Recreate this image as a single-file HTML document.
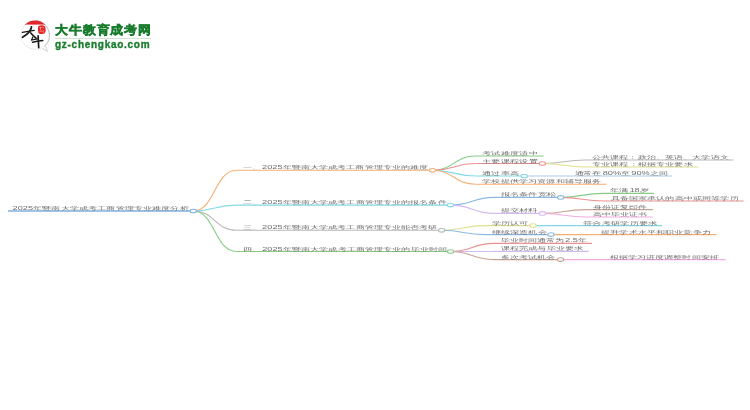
<!DOCTYPE html>
<html><head><meta charset="utf-8"><style>
html,body{margin:0;padding:0;background:#fff;width:750px;height:410px;overflow:hidden}
#wrap{position:absolute;left:0;top:0;width:750px;height:410px;will-change:transform}
svg{position:absolute;left:0;top:0}
.mm text{font-family:"Liberation Sans",sans-serif;font-size:4.6px;fill:#6e6e6e}
</style></head><body>
<div id="wrap">
<svg class="mm" width="750" height="410" viewBox="0 0 750 410">
<path d="M8.0 211.0H190.1" stroke="#80b0de" stroke-width="1.7" fill="none"/>
<path d="M193.3 211.0C214.8 211.0 214.8 170.3 236.2 170.3" stroke="#f7ae72" stroke-width="1.1" fill="none"/>
<path d="M236.2 170.3H429.2" stroke="#f7ae72" stroke-width="1.1" fill="none"/>
<path d="M193.3 211.0C214.8 211.0 214.8 205.1 236.2 205.1" stroke="#80d8e7" stroke-width="1.1" fill="none"/>
<path d="M236.2 205.1H447.3" stroke="#80d8e7" stroke-width="1.1" fill="none"/>
<path d="M193.3 211.0C214.8 211.0 214.8 230.3 236.2 230.3" stroke="#b8b8b8" stroke-width="1.1" fill="none"/>
<path d="M236.2 230.3H438.4" stroke="#b8b8b8" stroke-width="1.1" fill="none"/>
<path d="M193.3 211.0C214.8 211.0 214.8 251.5 236.2 251.5" stroke="#86cc86" stroke-width="1.1" fill="none"/>
<path d="M236.2 251.5H447.3" stroke="#86cc86" stroke-width="1.1" fill="none"/>
<path d="M432.4 170.3C454.0 170.3 454.0 156.0 475.7 156.0" stroke="#86cc86" stroke-width="1.1" fill="none"/>
<path d="M475.7 156.0H543.7" stroke="#86cc86" stroke-width="1.1" fill="none"/>
<path d="M432.4 170.3C454.0 170.3 454.0 163.5 475.7 163.5" stroke="#ec9090" stroke-width="1.1" fill="none"/>
<path d="M475.7 163.5H539.1" stroke="#ec9090" stroke-width="1.1" fill="none"/>
<path d="M432.4 170.3C454.0 170.3 454.0 176.0 475.7 176.0" stroke="#80d8e7" stroke-width="1.1" fill="none"/>
<path d="M475.7 176.0H521.0" stroke="#80d8e7" stroke-width="1.1" fill="none"/>
<path d="M432.4 170.3C454.0 170.3 454.0 184.3 475.7 184.3" stroke="#f7ae72" stroke-width="1.1" fill="none"/>
<path d="M475.7 184.3H606.6" stroke="#f7ae72" stroke-width="1.1" fill="none"/>
<path d="M542.3 163.5C563.8 163.5 563.8 160.0 585.4 160.0" stroke="#b8b8b8" stroke-width="1.1" fill="none"/>
<path d="M585.4 160.0H733.6" stroke="#b8b8b8" stroke-width="1.1" fill="none"/>
<path d="M542.3 163.5C563.8 163.5 563.8 167.0 585.4 167.0" stroke="#e0e08c" stroke-width="1.1" fill="none"/>
<path d="M585.4 167.0H698.4" stroke="#e0e08c" stroke-width="1.1" fill="none"/>
<path d="M524.2 176.0H568.0" stroke="#a9cbea" stroke-width="1.1" fill="none"/>
<path d="M568.0 176.0H672.4" stroke="#a9cbea" stroke-width="1.1" fill="none"/>
<path d="M450.5 205.1C472.2 205.1 472.2 197.4 494.0 197.4" stroke="#8cbae3" stroke-width="1.1" fill="none"/>
<path d="M494.0 197.4H557.4" stroke="#8cbae3" stroke-width="1.1" fill="none"/>
<path d="M450.5 205.1C472.2 205.1 472.2 213.4 494.0 213.4" stroke="#d6baef" stroke-width="1.1" fill="none"/>
<path d="M494.0 213.4H539.2" stroke="#d6baef" stroke-width="1.1" fill="none"/>
<path d="M560.6 197.4C582.0 197.4 582.0 193.4 603.5 193.4" stroke="#86cc86" stroke-width="1.1" fill="none"/>
<path d="M603.5 193.4H654.0" stroke="#86cc86" stroke-width="1.1" fill="none"/>
<path d="M560.6 197.4C582.3 197.4 582.3 201.0 604.0 201.0" stroke="#ec9090" stroke-width="1.1" fill="none"/>
<path d="M604.0 201.0H743.6" stroke="#ec9090" stroke-width="1.1" fill="none"/>
<path d="M542.4 213.4C564.2 213.4 564.2 209.6 586.0 209.6" stroke="#c8a496" stroke-width="1.1" fill="none"/>
<path d="M586.0 209.6H653.0" stroke="#c8a496" stroke-width="1.1" fill="none"/>
<path d="M542.4 213.4C564.2 213.4 564.2 217.0 586.0 217.0" stroke="#f3acdf" stroke-width="1.1" fill="none"/>
<path d="M586.0 217.0H653.0" stroke="#f3acdf" stroke-width="1.1" fill="none"/>
<path d="M441.6 230.3C463.3 230.3 463.3 225.6 485.0 225.6" stroke="#e0e08c" stroke-width="1.1" fill="none"/>
<path d="M485.0 225.6H529.8" stroke="#e0e08c" stroke-width="1.1" fill="none"/>
<path d="M441.6 230.3C463.3 230.3 463.3 234.6 485.0 234.6" stroke="#8cbae3" stroke-width="1.1" fill="none"/>
<path d="M485.0 234.6H547.8" stroke="#8cbae3" stroke-width="1.1" fill="none"/>
<path d="M533.0 225.6H576.6" stroke="#80d8e7" stroke-width="1.1" fill="none"/>
<path d="M576.6 225.6H662.0" stroke="#80d8e7" stroke-width="1.1" fill="none"/>
<path d="M551.0 234.6H594.6" stroke="#f7ae72" stroke-width="1.1" fill="none"/>
<path d="M594.6 234.6H716.4" stroke="#f7ae72" stroke-width="1.1" fill="none"/>
<path d="M450.5 251.5C472.2 251.5 472.2 243.4 494.0 243.4" stroke="#ec9090" stroke-width="1.1" fill="none"/>
<path d="M494.0 243.4H592.0" stroke="#ec9090" stroke-width="1.1" fill="none"/>
<path d="M450.5 251.5H494.0" stroke="#d6baef" stroke-width="1.1" fill="none"/>
<path d="M494.0 251.4H588.8" stroke="#d6baef" stroke-width="1.1" fill="none"/>
<path d="M450.5 251.5C472.2 251.5 472.2 259.6 494.0 259.6" stroke="#c8a496" stroke-width="1.1" fill="none"/>
<path d="M494.0 259.6H557.4" stroke="#c8a496" stroke-width="1.1" fill="none"/>
<path d="M560.6 259.6H603.4" stroke="#f3acdf" stroke-width="1.1" fill="none"/>
<path d="M603.4 259.6H725.6" stroke="#f3acdf" stroke-width="1.1" fill="none"/>
<ellipse cx="193.3" cy="211.0" rx="3.2" ry="1.8" fill="#fff" stroke="#80b0de" stroke-width="1.1"/>
<ellipse cx="432.4" cy="170.3" rx="3.2" ry="1.8" fill="#fff" stroke="#f7ae72" stroke-width="1.1"/>
<ellipse cx="450.5" cy="205.1" rx="3.2" ry="1.8" fill="#fff" stroke="#80d8e7" stroke-width="1.1"/>
<ellipse cx="441.6" cy="230.3" rx="3.2" ry="1.8" fill="#fff" stroke="#b8b8b8" stroke-width="1.1"/>
<ellipse cx="450.5" cy="251.5" rx="3.2" ry="1.8" fill="#fff" stroke="#86cc86" stroke-width="1.1"/>
<ellipse cx="542.3" cy="163.5" rx="3.2" ry="1.8" fill="#fff" stroke="#ec9090" stroke-width="1.1"/>
<ellipse cx="524.2" cy="176.0" rx="3.2" ry="1.8" fill="#fff" stroke="#80d8e7" stroke-width="1.1"/>
<ellipse cx="560.6" cy="197.4" rx="3.2" ry="1.8" fill="#fff" stroke="#8cbae3" stroke-width="1.1"/>
<ellipse cx="542.4" cy="213.4" rx="3.2" ry="1.8" fill="#fff" stroke="#d6baef" stroke-width="1.1"/>
<ellipse cx="533.0" cy="225.6" rx="3.2" ry="1.8" fill="#fff" stroke="#e0e08c" stroke-width="1.1"/>
<ellipse cx="551.0" cy="234.6" rx="3.2" ry="1.8" fill="#fff" stroke="#8cbae3" stroke-width="1.1"/>
<ellipse cx="560.6" cy="259.6" rx="3.2" ry="1.8" fill="#fff" stroke="#c8a496" stroke-width="1.1"/>
<g class="tx">
<text x="12.50" y="210.0" textLength="20.60" lengthAdjust="spacingAndGlyphs">2025</text>
<text x="33.10" y="210.0" textLength="155.70" lengthAdjust="spacingAndGlyphs">年暨南大学成考工商管理专业难度分析</text>
<text x="242.70" y="169.3" textLength="18.19" lengthAdjust="spacingAndGlyphs">一、</text>
<text x="262.09" y="169.3" textLength="20.60" lengthAdjust="spacingAndGlyphs">2025</text>
<text x="282.69" y="169.3" textLength="145.51" lengthAdjust="spacingAndGlyphs">年暨南大学成考工商管理专业的难度</text>
<text x="242.70" y="204.1" textLength="18.22" lengthAdjust="spacingAndGlyphs">二、</text>
<text x="262.12" y="204.1" textLength="20.60" lengthAdjust="spacingAndGlyphs">2025</text>
<text x="282.72" y="204.1" textLength="163.98" lengthAdjust="spacingAndGlyphs">年暨南大学成考工商管理专业的报名条件</text>
<text x="242.70" y="229.3" textLength="18.21" lengthAdjust="spacingAndGlyphs">三、</text>
<text x="262.11" y="229.3" textLength="20.60" lengthAdjust="spacingAndGlyphs">2025</text>
<text x="282.71" y="229.3" textLength="154.79" lengthAdjust="spacingAndGlyphs">年暨南大学成考工商管理专业能否考研</text>
<text x="242.70" y="250.5" textLength="18.25" lengthAdjust="spacingAndGlyphs">四、</text>
<text x="262.15" y="250.5" textLength="20.60" lengthAdjust="spacingAndGlyphs">2025</text>
<text x="282.75" y="250.5" textLength="164.25" lengthAdjust="spacingAndGlyphs">年暨南大学成考工商管理专业的毕业时间</text>
<text x="482.20" y="155.0" textLength="55.60" lengthAdjust="spacingAndGlyphs">考试难度适中</text>
<text x="482.20" y="162.5" textLength="55.60" lengthAdjust="spacingAndGlyphs">主要课程设置</text>
<text x="482.20" y="175.0" textLength="36.90" lengthAdjust="spacingAndGlyphs">通过率高</text>
<text x="482.20" y="183.3" textLength="119.20" lengthAdjust="spacingAndGlyphs">学校提供学习资源和辅导服务</text>
<text x="591.90" y="159.0" textLength="136.90" lengthAdjust="spacingAndGlyphs">公共课程：政治、英语、大学语文</text>
<text x="591.90" y="166.0" textLength="100.90" lengthAdjust="spacingAndGlyphs">专业课程：根据专业要求</text>
<text x="574.50" y="175.0" textLength="26.95" lengthAdjust="spacingAndGlyphs">通常在</text>
<text x="602.65" y="175.0" textLength="18.50" lengthAdjust="spacingAndGlyphs">80%</text>
<text x="621.15" y="175.0" textLength="8.98" lengthAdjust="spacingAndGlyphs">至</text>
<text x="631.33" y="175.0" textLength="18.50" lengthAdjust="spacingAndGlyphs">90%</text>
<text x="649.83" y="175.0" textLength="17.97" lengthAdjust="spacingAndGlyphs">之间</text>
<text x="500.50" y="196.4" textLength="55.70" lengthAdjust="spacingAndGlyphs">报名条件宽松</text>
<text x="500.50" y="212.4" textLength="37.30" lengthAdjust="spacingAndGlyphs">提交材料</text>
<text x="610.00" y="192.4" textLength="18.50" lengthAdjust="spacingAndGlyphs">年满</text>
<text x="629.70" y="192.4" textLength="9.85" lengthAdjust="spacingAndGlyphs">18</text>
<text x="639.55" y="192.4" textLength="9.25" lengthAdjust="spacingAndGlyphs">岁</text>
<text x="610.50" y="200.0" textLength="128.30" lengthAdjust="spacingAndGlyphs">具备国家承认的高中或同等学历</text>
<text x="592.50" y="208.6" textLength="54.30" lengthAdjust="spacingAndGlyphs">身份证复印件</text>
<text x="592.50" y="216.0" textLength="54.30" lengthAdjust="spacingAndGlyphs">高中毕业证书</text>
<text x="491.50" y="224.6" textLength="37.30" lengthAdjust="spacingAndGlyphs">学历认可</text>
<text x="491.50" y="233.6" textLength="55.30" lengthAdjust="spacingAndGlyphs">继续深造机会</text>
<text x="583.10" y="224.6" textLength="74.30" lengthAdjust="spacingAndGlyphs">符合考研学历要求</text>
<text x="601.10" y="233.6" textLength="109.70" lengthAdjust="spacingAndGlyphs">提升学术水平和职业竞争力</text>
<text x="500.50" y="242.4" textLength="63.35" lengthAdjust="spacingAndGlyphs">毕业时间通常为</text>
<text x="565.05" y="242.4" textLength="12.90" lengthAdjust="spacingAndGlyphs">2.5</text>
<text x="577.95" y="242.4" textLength="9.05" lengthAdjust="spacingAndGlyphs">年</text>
<text x="500.50" y="250.4" textLength="82.90" lengthAdjust="spacingAndGlyphs">课程完成与毕业要求</text>
<text x="500.50" y="258.6" textLength="54.90" lengthAdjust="spacingAndGlyphs">多次考试机会</text>
<text x="609.90" y="258.6" textLength="108.90" lengthAdjust="spacingAndGlyphs">根据学习进度调整时间安排</text>
</g>
</svg>
<svg width="750" height="410" viewBox="0 0 750 410" style="position:absolute;left:0;top:0">
<defs><clipPath id="cc"><circle cx="35" cy="35" r="14.6"/></clipPath></defs>
<path d="M45.6 45.6 Q46.6 48.6 47.4 51.6 Q44.8 49.6 42.2 48.2" fill="#fff" stroke="#c4c4c4" stroke-width="0.75"/>
<circle cx="35" cy="35" r="14.3" fill="#fff" stroke="#e4e4e4" stroke-width="0.7"/>
<path d="M36 20.6 A14.6 14.6 0 0 1 49.3 33 A14.6 14.6 0 0 1 44.5 46.5" fill="none" stroke="#bdbdbd" stroke-width="0.9"/>
<rect x="20" y="19" width="30" height="5.6" fill="#e0262a" clip-path="url(#cc)"/>
<path d="M38.2 26.3 Q40.5 24.8 43.8 25.4 Q46 26.5 45.6 29.5 Q46 32.8 43.5 33.8 Q40.5 34.6 38.6 33.2 Q37.4 30.8 38.2 26.3Z" fill="#e22424"/>
<path d="M39.5 27.5h2.2M40.5 27v3.2M42.3 27.2l1.8 1.2M39.6 31.2h3M43.2 30v3" stroke="#fff" stroke-width="0.5" fill="none" opacity="0.85"/>
<g stroke="#1a1a1a" fill="none" stroke-linecap="round">
<path d="M22.4 32.4 Q28 31.2 34.2 30.4" stroke-width="1.4"/>
<path d="M31.5 26.9 Q30.8 32.5 22.5 37.3" stroke-width="1.8"/>
<path d="M30.8 32.9 Q33 35.6 36 38.2" stroke-width="1.6"/>
<path d="M32.8 37 L31.6 40" stroke-width="1.2"/>
<path d="M31.8 39.8 Q34.5 39.4 37.8 38.9" stroke-width="1.2"/>
<path d="M32.5 42.2 Q37 41.3 42.8 40.6" stroke-width="1.5"/>
<path d="M38.1 35.9 Q38.4 41.5 38.7 47.6" stroke-width="1.7"/>
</g>
</svg>
<div style="position:absolute;left:54.8px;top:21.4px;font-family:'Liberation Sans',sans-serif;font-weight:900;font-size:12px;line-height:18px;color:#187c2c;-webkit-text-stroke:0.5px #187c2c;white-space:nowrap;letter-spacing:0.95px;transform:scaleX(1.07);transform-origin:0 0">大牛教育成考网</div>
<div style="position:absolute;left:54.5px;top:38.2px;width:96px;height:1px;background:#d3e3d3"></div>
<div style="position:absolute;left:55px;top:39.2px;font-family:'Liberation Sans',sans-serif;font-weight:bold;font-size:10px;line-height:12px;color:#187c2c;-webkit-text-stroke:0.35px #187c2c;white-space:nowrap;letter-spacing:0.72px">gz-chengkao.com</div>

</div>
</body></html>
